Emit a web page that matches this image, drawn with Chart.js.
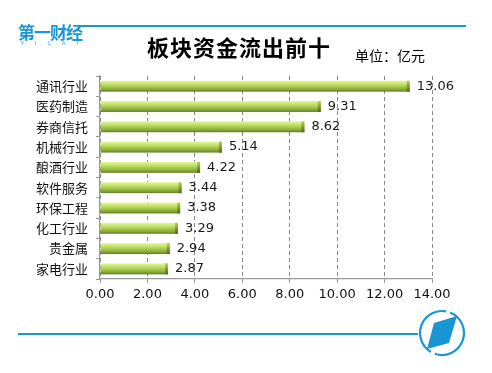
<!DOCTYPE html>
<html>
<head>
<meta charset="utf-8">
<script src="https://cdn.jsdelivr.net/npm/chart.js@4.4.0/dist/chart.umd.min.js"></script>
<style>
  html, body { margin: 0; padding: 0; background: #fff; }
  #wrap { position: relative; width: 492px; height: 373px; overflow: hidden; }
  #chart { position: absolute; left: 0; top: 0; }
  .txt { position: absolute; white-space: nowrap; font-family: "Noto Sans CJK SC", sans-serif; }
  #title { left: 147px; top: 31px; font-size: 22px; font-weight: bold; color: #000; line-height: 30px; letter-spacing: 1px; }
  #unit { left: 355px; top: 45px; font-size: 14px; color: #000; line-height: 20px; }
  #logo { left: 18px; top: 22px; font-size: 17px; font-weight: bold; color: #1a96d4; line-height: 20px; letter-spacing: -1px; }
  #logo2 { left: 21px; top: 40px; font-size: 5px; color: #1a96d4; letter-spacing: 11px; font-family: "DejaVu Sans", sans-serif; }
</style>
</head>
<body>
<div id="wrap">
  <canvas id="chart" width="492" height="373"></canvas>
  <div class="txt" id="logo">第一财经</div>
  <div class="txt" id="logo2">YICAI</div>
  <div class="txt" id="title">板块资金流出前十</div>
  <div class="txt" id="unit">单位：亿元</div>
</div>
<script>
let sectors = ['通讯行业', '医药制造', '券商信托', '机械行业', '酿酒行业', '软件服务', '环保工程', '化工行业', '贵金属', '家电行业'];
let outflow = [13.06, 9.31, 8.62, 5.14, 4.22, 3.44, 3.38, 3.29, 2.94, 2.87];
let xTicks = [0, 2, 4, 6, 8, 10, 12, 14];

let ctx = document.getElementById('chart').getContext('2d');

// draws the blue header/footer lines and the round logo
let decor = {
  id: 'decor',
  afterDraw(chart) {
    let c = chart.ctx;
    c.save();
    c.strokeStyle = '#1a96d4';
    c.lineWidth = 2;
    c.beginPath(); c.moveTo(80, 26); c.lineTo(466, 26); c.stroke();
    c.beginPath(); c.moveTo(18, 334); c.lineTo(418, 334); c.stroke();
    c.lineWidth = 2.2;
    c.beginPath(); c.arc(442, 333, 22, -1.2, 1.9); c.stroke();
    c.beginPath(); c.arc(442, 333, 22, 2.1, 4.9); c.stroke();
    c.fillStyle = '#1a96d4';
    c.beginPath();
    c.moveTo(434, 323); c.lineTo(457, 316); c.lineTo(449, 343); c.lineTo(427, 349);
    c.closePath(); c.fill();
    c.restore();
  }
};

// 3D looking bars + value labels
let barLook = {
  id: 'barLook',
  afterDatasetsDraw(chart) {
    let c = chart.ctx;
    let meta = chart.getDatasetMeta(0);
    c.save();
    meta.data.forEach((bar, i) => {
      let x0 = bar.base, x1 = bar.x;
      let h = bar.height, y0 = bar.y - h / 2;
      let g = c.createLinearGradient(0, y0, 0, y0 + h);
      g.addColorStop(0, '#e6f7a4');
      g.addColorStop(0.25, '#cbe672');
      g.addColorStop(0.55, '#a8c94c');
      g.addColorStop(0.8, '#87a83a');
      g.addColorStop(1, '#617c26');
      c.fillStyle = g;
      c.fillRect(x0, y0, x1 - x0, h);
      let g2 = c.createLinearGradient(0, y0, 0, y0 + h);
      g2.addColorStop(0, '#b8d45c');
      g2.addColorStop(0.5, '#7f9e34');
      g2.addColorStop(1, '#4f6a1c');
      c.fillStyle = g2;
      c.fillRect(x1 - 3, y0, 3, h);
      c.fillStyle = '#1a1a1a';
      c.font = '13px "DejaVu Sans", sans-serif';
      c.textBaseline = 'middle';
      c.fillText(outflow[i].toFixed(2), x1 + 7, bar.y);
    });
    c.restore();
  }
};

let chart = new Chart(ctx, {
  type: 'bar',
  data: {
    labels: sectors,
    datasets: [{
      data: outflow,
      backgroundColor: 'rgba(0,0,0,0)',
      barThickness: 11
    }]
  },
  options: {
    indexAxis: 'y',
    animation: false,
    responsive: false,
    layout: { padding: { left: 0, top: 76, right: 60, bottom: 64 } },
    plugins: { legend: { display: false }, tooltip: { enabled: false } },
    scales: {
      x: {
        min: 0, max: 14,
        afterFit: s => { s.height = 30; },
        afterBuildTicks: s => { s.ticks = xTicks.map(v => ({ value: v })); },
        ticks: {
          color: '#111',
          font: { size: 13, family: '"DejaVu Sans", sans-serif' },
          padding: 4,
          callback: v => v.toFixed(2)
        },
        grid: { color: '#888', tickColor: '#999', tickLength: 4, tickBorderDash: [] },
        border: { color: '#999', width: 1.2, dash: [4, 3] }
      },
      y: {
        afterFit: s => { s.width = 100; },
        ticks: {
          color: '#111',
          font: { size: 13, family: '"Noto Sans CJK SC", sans-serif' },
          padding: 8
        },
        grid: { offset: true, drawOnChartArea: false, color: '#999', tickLength: 4 },
        border: { color: '#999', width: 1.2 }
      }
    }
  },
  plugins: [barLook, decor]
});
</script>
</body>
</html>
